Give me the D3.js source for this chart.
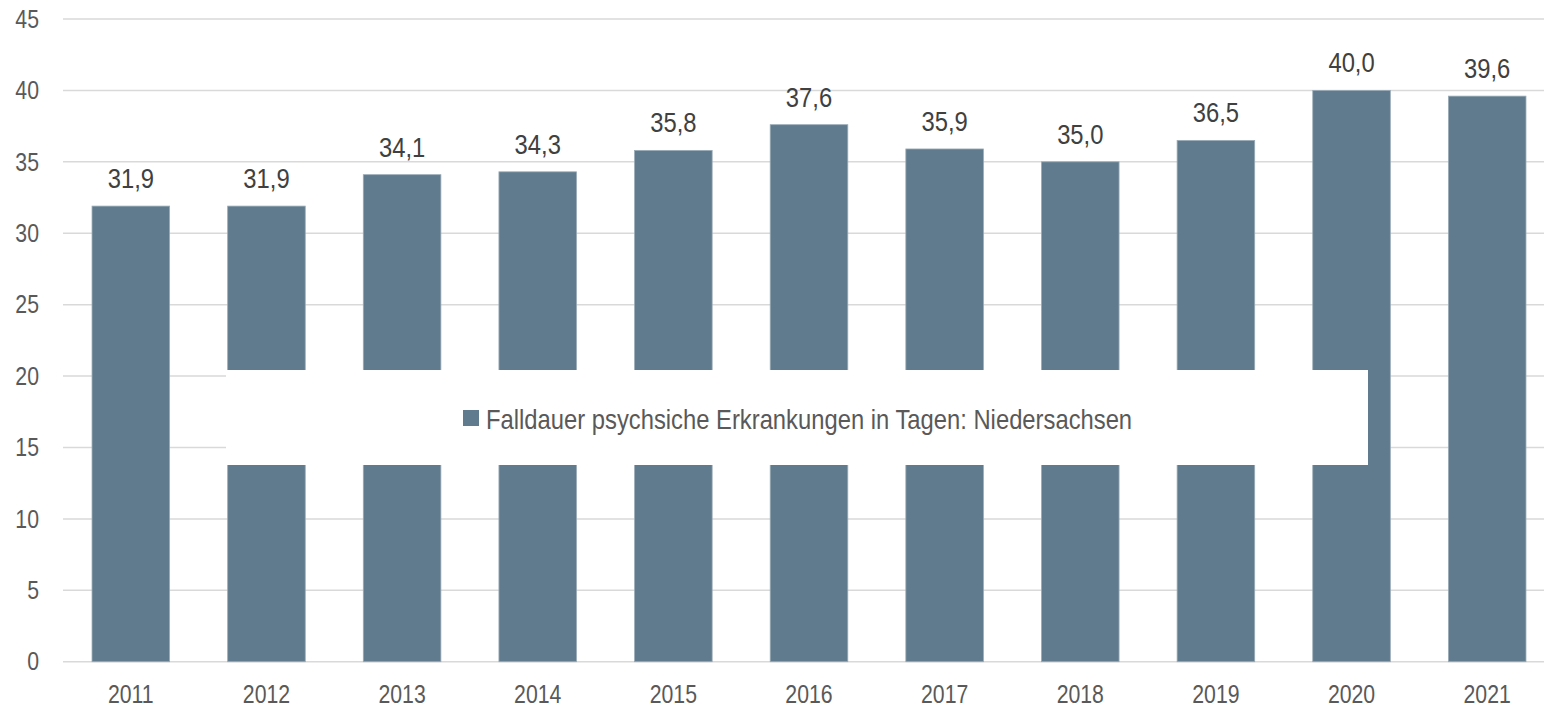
<!DOCTYPE html>
<html>
<head>
<meta charset="utf-8">
<script src="https://cdn.jsdelivr.net/npm/d3@7"></script>
<style>
  body { margin: 0; background: #fff; }
  svg { display: block; }
  text { font-family: "Liberation Sans Narrow", "Arial Narrow", "Liberation Sans", Arial, sans-serif; }
</style>
</head>
<body>
<svg id="chart" width="1544" height="707"></svg>
<script>
// data
const years = ['2011', '2012', '2013', '2014', '2015', '2016', '2017', '2018', '2019', '2020', '2021'];
const days = [31.9, 31.9, 34.1, 34.3, 35.8, 37.6, 35.9, 35.0, 36.5, 40.0, 39.6];
const yTicks = [0, 5, 10, 15, 20, 25, 30, 35, 40, 45];
const seriesName = 'Falldauer psychsiche Erkrankungen in Tagen: Niedersachsen';

const svg = d3.select('#chart');
const width = +svg.attr('width');

const barColor = '#607b8d';
// the original uses a narrow font, squeeze the regular one
const narrow = 0.85;
const place = (px, py) => `translate(${px},${py}) scale(${narrow},1)`;

const x = d3.scaleBand()
  .domain(years)
  .range([63, 1555])
  .paddingInner(0.428)
  .paddingOuter(0.214);

const y = d3.scaleLinear()
  .domain([0, 45])
  .range([661.7, 19]);

const fmt = v => d3.format('.1f')(v).replace('.', ',');

// gridlines
svg.append('g')
  .selectAll('line')
  .data(yTicks)
  .enter()
  .append('line')
  .attr('x1', 63)
  .attr('x2', width)
  .attr('y1', d => y(d))
  .attr('y2', d => y(d))
  .attr('stroke', '#d9d9d9')
  .attr('stroke-width', 1.5);

// y axis labels
svg.append('g')
  .selectAll('text')
  .data(yTicks)
  .enter()
  .append('text')
  .attr('transform', d => place(39, y(d)))
  .attr('dy', '0.35em')
  .attr('text-anchor', 'end')
  .attr('font-size', 25)
  .attr('fill', '#595959')
  .text(d => d);

// bars
svg.append('g')
  .selectAll('rect')
  .data(days)
  .enter()
  .append('rect')
  .attr('x', (d, i) => x(years[i]))
  .attr('y', d => y(d))
  .attr('width', x.bandwidth())
  .attr('height', d => y(0) - y(d))
  .attr('fill', barColor)
  .attr('stroke', '#9aabb7')
  .attr('stroke-width', 0.8);

// value labels
svg.append('g')
  .selectAll('text')
  .data(days)
  .enter()
  .append('text')
  .attr('transform', (d, i) => place(x(years[i]) + x.bandwidth() / 2, y(d) - 18))
  .attr('text-anchor', 'middle')
  .attr('font-size', 28)
  .attr('fill', '#404040')
  .text(d => fmt(d));

// x axis labels
svg.append('g')
  .selectAll('text')
  .data(years)
  .enter()
  .append('text')
  .attr('transform', d => place(x(d) + x.bandwidth() / 2, 703))
  .attr('text-anchor', 'middle')
  .attr('font-size', 25)
  .attr('fill', '#595959')
  .text(d => d);

// legend box over the bars
const legend = svg.append('g');
legend.append('rect')
  .attr('x', 226)
  .attr('y', 370)
  .attr('width', 1368 - 226)
  .attr('height', 465 - 370)
  .attr('fill', '#fff');
legend.append('rect')
  .attr('x', 463)
  .attr('y', 410)
  .attr('width', 16)
  .attr('height', 16)
  .attr('fill', barColor);
legend.append('text')
  .attr('transform', place(486, 429))
  .attr('font-size', 28)
  .attr('fill', '#595959')
  .text(seriesName);
</script>
</body>
</html>
